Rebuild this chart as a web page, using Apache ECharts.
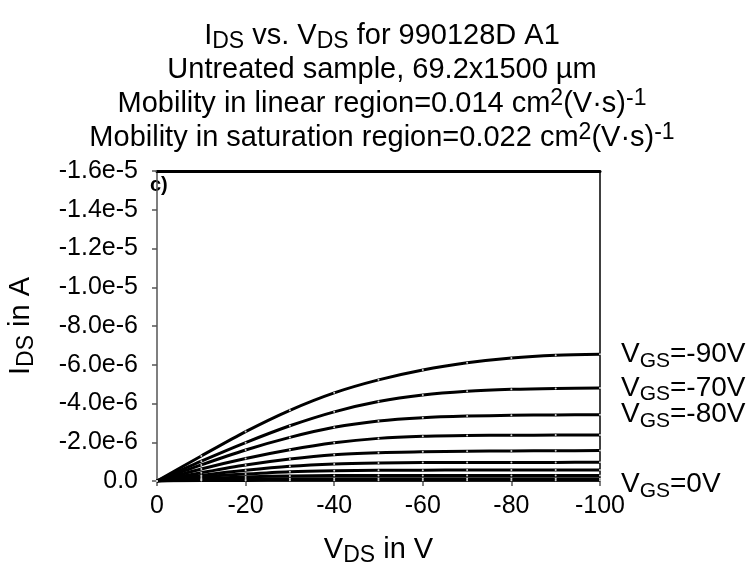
<!DOCTYPE html>
<html>
<head>
<meta charset="utf-8">
<script src="https://cdn.jsdelivr.net/npm/echarts@6/dist/echarts.min.js"></script>
<style>html,body{margin:0;padding:0;background:#fff;}#c{width:754px;height:573px;}</style>
</head>
<body>
<div id="c"></div>
<script>
// V_DS values (V)
const vds = [0, -10, -20, -30, -40, -50, -60, -70, -80, -90, -100];
// I_DS curves (A), top to bottom
const curve1 = [0, -1.29e-6, -2.55e-6, -3.65e-6, -4.55e-6, -5.22e-6, -5.73e-6, -6.10e-6, -6.35e-6, -6.49e-6, -6.54e-6];
const curve2 = [0, -1.02e-6, -1.98e-6, -2.85e-6, -3.57e-6, -4.10e-6, -4.44e-6, -4.63e-6, -4.73e-6, -4.78e-6, -4.80e-6];
const curve3 = [0, -0.83e-6, -1.60e-6, -2.25e-6, -2.77e-6, -3.10e-6, -3.27e-6, -3.35e-6, -3.39e-6, -3.41e-6, -3.42e-6];
const curve4 = [0, -0.62e-6, -1.16e-6, -1.61e-6, -1.97e-6, -2.20e-6, -2.31e-6, -2.35e-6, -2.36e-6, -2.37e-6, -2.37e-6];
const curve5 = [0, -0.43e-6, -0.83e-6, -1.14e-6, -1.36e-6, -1.46e-6, -1.51e-6, -1.54e-6, -1.55e-6, -1.56e-6, -1.57e-6];
const curve6 = [0, -0.29e-6, -0.55e-6, -0.76e-6, -0.88e-6, -0.93e-6, -0.95e-6, -0.96e-6, -0.96e-6, -0.96e-6, -0.97e-6];
const curve7 = [0, -0.21e-6, -0.36e-6, -0.48e-6, -0.53e-6, -0.55e-6, -0.56e-6, -0.57e-6, -0.57e-6, -0.57e-6, -0.57e-6];
const curve8 = [0, -0.12e-6, -0.21e-6, -0.26e-6, -0.28e-6, -0.28e-6, -0.28e-6, -0.28e-6, -0.28e-6, -0.28e-6, -0.28e-6];
const curve9 = [0, -0.07e-6, -0.10e-6, -0.12e-6, -0.12e-6, -0.12e-6, -0.12e-6, -0.12e-6, -0.12e-6, -0.12e-6, -0.12e-6];
const curve10 = [0, -0.02e-6, -0.03e-6, -0.04e-6, -0.04e-6, -0.04e-6, -0.04e-6, -0.04e-6, -0.04e-6, -0.04e-6, -0.04e-6];
const curves = [curve1, curve2, curve3, curve4, curve5, curve6, curve7, curve8, curve9, curve10];
// labels printed next to the curve ends; null = no label
const curveLabels = ['-90V', '-70V', '-80V', null, null, null, null, null, null, '0V'];
// axis ticks
const xMin = -100, xMax = 0, xStep = 20;
const yMin = -1.6e-5, yMax = 0, yStep = 2e-6;

const FONT = 'Liberation Sans, Arial, sans-serif';
const chart = echarts.init(document.getElementById('c'), null, {renderer: 'canvas'});

const labelRich = {
  n: {fontFamily: FONT, fontSize: 28, color: '#000', lineHeight: 34},
  s: {fontFamily: FONT, fontSize: 21, color: '#000', lineHeight: 22, verticalAlign: 'bottom'}
};

const series = curves.map((c, i) => ({
  type: 'line',
  name: curveLabels[i] ? 'VGS=' + curveLabels[i] : 'curve' + (i + 1),
  data: vds.map((v, j) => {
    if (j === vds.length - 1 && curveLabels[i]) {
      return {
        value: [v, c[j]],
        label: {
          show: true, position: 'right', distance: 20,
          offset: curveLabels[i] === '0V' ? [0, 4] : [0, 0],
          formatter: '{n|V}{s|GS}{n|=' + curveLabels[i] + '}',
          rich: labelRich
        }
      };
    }
    return [v, c[j]];
  }),
  smooth: 0.3,
  symbol: 'circle',
  symbolSize: 2,
  showAllSymbol: true,
  itemStyle: {color: '#d0d0d0'},
  lineStyle: {color: '#000', width: 3},
  label: {show: false},
  z: 3
}));

const richTitle = {
  n: {fontFamily: FONT, fontSize: 29, fontWeight: 'normal', color: '#000', lineHeight: 34},
  sub: {fontFamily: FONT, fontSize: 23, fontWeight: 'normal', color: '#000', lineHeight: 24, verticalAlign: 'bottom'},
  sup: {fontFamily: FONT, fontSize: 23, fontWeight: 'normal', color: '#000', lineHeight: 24, verticalAlign: 'top'}
};

const nameRich = {
  n: {fontFamily: FONT, fontSize: 29, color: '#000', lineHeight: 34},
  s: {fontFamily: FONT, fontSize: 23, color: '#000', lineHeight: 24, verticalAlign: 'bottom'}
};

chart.setOption({
  animation: false,
  backgroundColor: '#fff',
  title: {
    left: 377,
    top: 14,
    textAlign: 'center',
    text: '{n|I}{sub|DS}{n| vs. V}{sub|DS}{n| for 990128D A1}\n' +
          '{n|Untreated sample, 69.2x1500 \u00b5m}\n' +
          '{n|Mobility in linear region=0.014 cm}{sup|2}{n|(V\u00b7s)}{sup|-1}\n' +
          '{n|Mobility in saturation region=0.022 cm}{sup|2}{n|(V\u00b7s)}{sup|-1}',
    textStyle: {fontWeight: 'normal', rich: richTitle}
  },
  grid: {left: 157, right: 154, top: 171, bottom: 92, containLabel: false, outerBoundsMode: 'none'},
  xAxis: [{
    type: 'value', min: xMin, max: xMax, interval: xStep, inverse: true,
    splitLine: {show: false},
    axisLine: {show: true, lineStyle: {color: '#555', width: 1.5}, onZero: false},
    axisTick: {show: true, inside: false, length: 5, lineStyle: {color: '#555', width: 1.5}},
    axisLabel: {fontFamily: FONT, fontSize: 25, color: '#000', margin: 13},
    name: '{n|V}{s|DS}{n| in V}',
    nameLocation: 'middle', nameGap: 52,
    nameTextStyle: {rich: nameRich}
  }, {
    type: 'value', min: xMin, max: xMax, inverse: true, position: 'top',
    axisLine: {show: true, lineStyle: {color: '#000', width: 3}, onZero: false},
    axisTick: {show: false}, axisLabel: {show: false}, splitLine: {show: false}
  }],
  yAxis: [{
    type: 'value', min: yMin, max: yMax, interval: yStep, inverse: true,
    splitLine: {show: false},
    axisLine: {show: true, lineStyle: {color: '#555', width: 1.5}, onZero: false},
    axisTick: {show: true, inside: false, length: 5, lineStyle: {color: '#555', width: 1.5}},
    axisLabel: {fontFamily: FONT, fontSize: 25, color: '#000', margin: 19,
      formatter: v => (Math.abs(v) < 1e-12 ? '0.0' : v.toExponential(1))},
    name: '{n|I}{s|DS}{n| in A}',
    nameLocation: 'middle', nameGap: 119, nameRotate: 90,
    nameTextStyle: {rich: nameRich}
  }, {
    type: 'value', min: yMin, max: yMax, inverse: true, position: 'right',
    axisLine: {show: true, lineStyle: {color: '#000', width: 1.5}, onZero: false},
    axisTick: {show: false}, axisLabel: {show: false}, splitLine: {show: false}
  }],
  graphic: [{
    type: 'text', left: 150, top: 175,
    style: {text: 'c)', fontFamily: FONT, fontSize: 20, fontWeight: 'bold', fill: '#000'}
  }],
  series: series
});
</script>
</body>
</html>
